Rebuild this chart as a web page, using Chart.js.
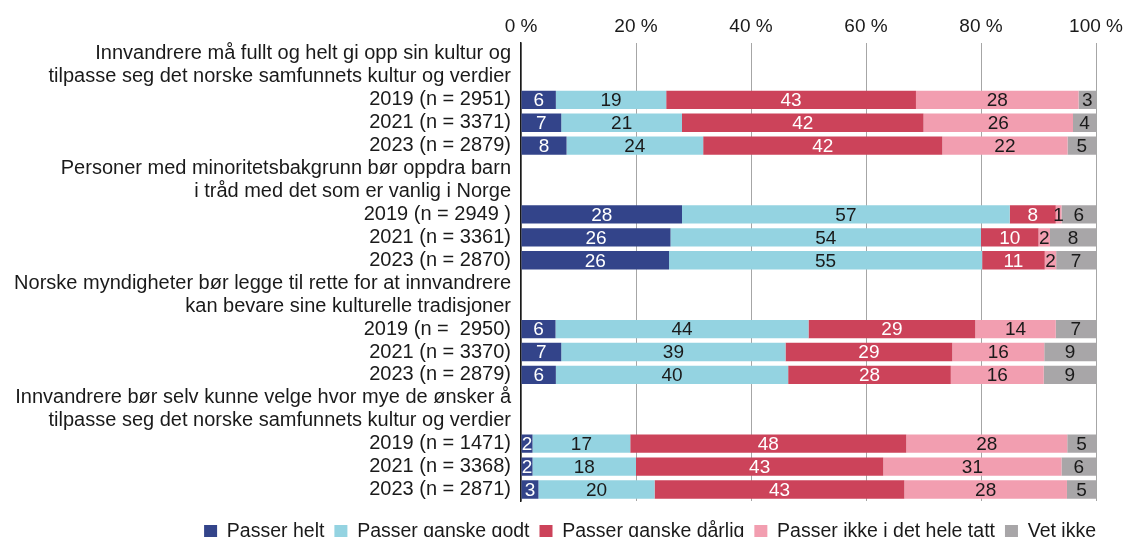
<!DOCTYPE html>
<html lang="no">
<head>
<meta charset="utf-8">
<title>Holdninger til integrering</title>
<script src="https://cdn.jsdelivr.net/npm/chart.js@4.4.1/dist/chart.umd.min.js"></script>
<style>
  html, body { margin: 0; padding: 0; background: #fff; }
  #wrap { width: 1126px; height: 537px; overflow: hidden; }
</style>
</head>
<body>
<div id="wrap"><canvas id="grafIntegrering" width="1126" height="560"></canvas></div>
<script>
// Påstandene (to linjer hver) og årsradene under hver påstand
const pastander = [
    ['Innvandrere må fullt og helt gi opp sin kultur og', 'tilpasse seg det norske samfunnets kultur og verdier'],
    ['Personer med minoritetsbakgrunn bør oppdra barn', 'i tråd med det som er vanlig i Norge'],
    ['Norske myndigheter bør legge til rette for at innvandrere', 'kan bevare sine kulturelle tradisjoner'],
    ['Innvandrere bør selv kunne velge hvor mye de ønsker å', 'tilpasse seg det norske samfunnets kultur og verdier']
];
const aarRader = [
    ['2019 (n = 2951)', '2021 (n = 3371)', '2023 (n = 2879)'],
    ['2019 (n = 2949 )', '2021 (n = 3361)', '2023 (n = 2870)'],
    ['2019 (n =  2950)', '2021 (n = 3370)', '2023 (n = 2879)'],
    ['2019 (n = 1471)', '2021 (n = 3368)', '2023 (n = 2871)']
];

const serier = ['Passer helt', 'Passer ganske godt', 'Passer ganske dårlig', 'Passer ikke i det hele tatt', 'Vet ikke'];

// prosent, én verdi per årsrad (4 påstander x 3 år)
const passerHelt    = [6, 7, 8,    28, 26, 26,  6, 7, 6,     2, 2, 3];
const passerGodt    = [19, 21, 24, 57, 54, 55,  44, 39, 40,  17, 18, 20];
const passerDarlig  = [43, 42, 42, 8, 10, 11,   29, 29, 28,  48, 43, 43];
const passerIkke    = [28, 26, 22, 1, 2, 2,     14, 16, 16,  28, 31, 28];
const vetIkke       = [3, 4, 5,    6, 8, 7,     7, 9, 9,     5, 6, 5];

const aksetikker = [0, 20, 40, 60, 80, 100];

const farger = ['#33448a', '#94d3e1', '#cc435a', '#f29eb0', '#a8a6a8'];
const tekstFarger = ['#ffffff', '#1a1a1a', '#ffffff', '#1a1a1a', '#1a1a1a'];
const skrift = '"Liberation Sans", Arial, sans-serif';

document.addEventListener('DOMContentLoaded', function () {
    const canvas = document.getElementById('grafIntegrering');

    const alleSerier = [passerHelt, passerGodt, passerDarlig, passerIkke, vetIkke];

    // bygg radene: to overskriftslinjer uten stolper, så tre årsrader
    const etiketter = [];
    const radIndeks = [];
    pastander.forEach((linjer, p) => {
        linjer.forEach((linje) => {
            etiketter.push(linje);
            radIndeks.push(null);
        });
        aarRader[p].forEach((aar, a) => {
            etiketter.push(aar);
            radIndeks.push(p * 3 + a);
        });
    });

    // stolpene fyller 100 %, også der avrundede tall summerer til 99 eller 101
    const radSum = passerHelt.map((_, i) => alleSerier.reduce((s, serie) => s + serie[i], 0));

    const datasett = serier.map((navn, k) => ({
        label: navn,
        raa: radIndeks.map((i) => (i === null ? null : alleSerier[k][i])),
        data: radIndeks.map((i) => (i === null ? null : alleSerier[k][i] / radSum[i] * 100)),
        backgroundColor: farger[k],
        borderWidth: 0,
        barPercentage: 0.8,
        categoryPercentage: 1
    }));

    const verdiEtiketter = {
        id: 'verdiEtiketter',
        afterDatasetsDraw(chart) {
            const ctx = chart.ctx;
            ctx.save();
            ctx.font = '19px ' + skrift;
            ctx.textAlign = 'center';
            ctx.textBaseline = 'middle';
            chart.data.datasets.forEach((ds, i) => {
                chart.getDatasetMeta(i).data.forEach((stolpe, j) => {
                    const v = ds.raa[j];
                    if (v === null || v === undefined) return;
                    ctx.fillStyle = tekstFarger[i];
                    ctx.fillText(String(v), (stolpe.x + stolpe.base) / 2, stolpe.y + 1);
                });
            });
            ctx.restore();
        }
    };

    new Chart(canvas, {
        type: 'bar',
        data: {
            labels: etiketter,
            datasets: datasett
        },
        options: {
            indexAxis: 'y',
            responsive: false,
            animation: false,
            layout: {
                padding: { top: 0, left: 0, right: 20, bottom: 8.7 }
            },
            plugins: {
                legend: {
                    position: 'bottom',
                    align: 'end',
                    title: {
                        display: true,
                        text: '',
                        padding: 0,
                        font: { size: 9, lineHeight: 1.2 }
                    },
                    labels: {
                        boxWidth: 13,
                        boxHeight: 13,
                        padding: 10,
                        color: '#1a1a1a',
                        font: { family: skrift, size: 19.5 }
                    }
                },
                tooltip: { enabled: false }
            },
            scales: {
                x: {
                    position: 'top',
                    stacked: true,
                    min: 0,
                    max: 100,
                    afterBuildTicks: (akse) => {
                        akse.ticks = aksetikker.map((v) => ({ value: v }));
                    },
                    afterFit: (akse) => {
                        akse.height = 42.5;
                        akse.paddingLeft = 0;
                        akse.paddingRight = 30;
                    },
                    border: { display: false },
                    grid: {
                        color: '#a6a6a6',
                        lineWidth: 1,
                        drawTicks: false
                    },
                    ticks: {
                        padding: 4.5,
                        color: '#1a1a1a',
                        font: { family: skrift, size: 19 },
                        callback: (v) => v + ' %'
                    }
                },
                y: {
                    stacked: true,
                    afterFit: (akse) => { akse.width = 521; },
                    grid: { display: false, drawTicks: false },
                    border: { display: true, color: '#1a1a1a', width: 1.5 },
                    ticks: {
                        autoSkip: false,
                        padding: 10,
                        color: '#1a1a1a',
                        font: { family: skrift, size: 20 }
                    }
                }
            }
        },
        plugins: [verdiEtiketter]
    });
});
</script>
</body>
</html>
